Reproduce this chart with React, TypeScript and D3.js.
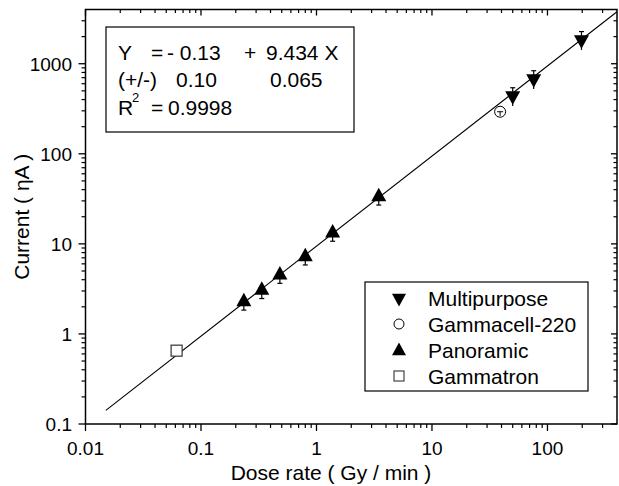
import React from "react";
import * as d3 from "d3";

const multiX = [50, 76, 197];
const multiY = [440, 680, 1850];
const multiErr = [0.23, 0.23, 0.23];

const gammacellX = [38.9];
const gammacellY = [293];
const gammacellErr = [0.05];

const panoX = [0.235, 0.336, 0.482, 0.80, 1.38, 3.46];
const panoY = [2.27, 3.05, 4.5, 7.2, 13.2, 33.3];
const panoErr = [0.19, 0.19, 0.19, 0.19, 0.19, 0.19];

const gammatronX = [0.0615];
const gammatronY = [0.652];

const xTicks = [0.01, 0.1, 1, 10, 100];
const xTickLabels = ["0.01", "0.1", "1", "10", "100"];
const yTicks = [0.1, 1, 10, 100, 1000];
const yTickLabels = ["0.1", "1", "10", "100", "1000"];

const fitSlope = 9.434;
const fitXStart = 0.015;
const fitXEnd = 400;

const legendItems = ["Multipurpose", "Gammacell-220", "Panoramic", "Gammatron"];

const W = 619, H = 486;
const left = 85.5, right = 617, top = 9.5, bottom = 424;
const FONT = "Liberation Sans, Arial, sans-serif";

function minorTicks(lo: number, hi: number) {
  const out: number[] = [];
  for (let d = Math.floor(Math.log10(lo)); d <= Math.ceil(Math.log10(hi)); d++) {
    for (let m = 2; m <= 9; m++) {
      const v = m * Math.pow(10, d);
      if (v > lo && v < hi) out.push(v);
    }
  }
  return out;
}

const upTri = (s: number) => `M0,${-s * 0.6}L${s / 2},${s * 0.3}L${-s / 2},${s * 0.3}Z`;
const downTri = (s: number) => `M0,${s * 0.6}L${s / 2},${-s * 0.3}L${-s / 2},${-s * 0.3}Z`;

export default function App() {
  const x = d3.scaleLog().domain([0.01, 400]).range([left, right]);
  const y = d3.scaleLog().domain([0.1, 4000]).range([bottom, top]);
  const xMinor = minorTicks(0.01, 400);
  const yMinor = minorTicks(0.1, 4000);

  const fitLine = d3
    .line<number>()
    .x((v) => x(v))
    .y((v) => y(fitSlope * v));
  const fitPts = [fitXStart, fitXEnd];

  const errBar = (cx: number, v: number, e: number, capEnd: "top" | "bottom") => {
    const y1 = y(v * (1 + e));
    const y2 = y(v * (1 - e));
    const yc = capEnd === "top" ? y1 : y2;
    return (
      <g stroke="#000" strokeWidth={1.2}>
        <line x1={cx} x2={cx} y1={y1} y2={y2} />
        <line x1={cx - 2.5} x2={cx + 2.5} y1={yc} y2={yc} />
      </g>
    );
  };

  const legX = 365, legY = 282, legW = 223, legH = 109;
  const eqX = 106, eqY = 27, eqW = 248, eqH = 105;

  return (
    <svg width={W} height={H} style={{ position: "absolute", left: 0, top: 0 }} fontFamily={FONT}>
      <rect x={0} y={0} width={W} height={H} fill="#fff" />
      <defs>
        <clipPath id="plot">
          <rect x={left} y={top} width={right - left} height={bottom - top} />
        </clipPath>
      </defs>

      <path d={fitLine(fitPts) || ""} stroke="#000" strokeWidth={1.1} fill="none" clipPath="url(#plot)" />

      {panoX.map((v, i) => (
        <g key={"p" + i}>
          {errBar(x(v), panoY[i], panoErr[i], "bottom")}
          <path d={upTri(15)} transform={`translate(${x(v)},${y(panoY[i])})`} fill="#000" />
        </g>
      ))}
      {multiX.map((v, i) => (
        <g key={"m" + i}>
          {errBar(x(v), multiY[i], multiErr[i], "top")}
          <path d={downTri(15)} transform={`translate(${x(v)},${y(multiY[i])})`} fill="#000" />
        </g>
      ))}
      {gammacellX.map((v, i) => (
        <g key={"g" + i}>
          <circle cx={x(v)} cy={y(gammacellY[i])} r={5.5} fill="#fff" stroke="#000" strokeWidth={1} />
          <line x1={x(v) - 3} x2={x(v) + 3} y1={y(gammacellY[i])} y2={y(gammacellY[i])} stroke="#000" />
          <line x1={x(v)} x2={x(v)} y1={y(gammacellY[i])} y2={y(gammacellY[i] * (1 - gammacellErr[i] * 2))} stroke="#000" />
        </g>
      ))}
      {gammatronX.map((v, i) => (
        <rect key={"t" + i} x={x(v) - 5.5} y={y(gammatronY[i]) - 5.5} width={11} height={11} fill="#fff" stroke="#333" strokeWidth={1.2} />
      ))}

      <rect x={left} y={top} width={right - left} height={bottom - top} fill="none" stroke="#000" strokeWidth={1.5} />

      {xTicks.map((t, i) => (
        <g key={"xt" + i}>
          <line x1={x(t)} x2={x(t)} y1={bottom} y2={bottom + 7} stroke="#000" strokeWidth={1.3} />
          <line x1={x(t)} x2={x(t)} y1={top} y2={top + 6} stroke="#000" strokeWidth={1.3} />
          <text x={x(t)} y={455} fontSize={19} textAnchor="middle">{xTickLabels[i]}</text>
        </g>
      ))}
      {xMinor.map((t, i) => (
        <g key={"xm" + i} stroke="#000" strokeWidth={1.2}>
          <line x1={x(t)} x2={x(t)} y1={bottom} y2={bottom + 4} />
          <line x1={x(t)} x2={x(t)} y1={top} y2={top + 3.5} />
        </g>
      ))}
      {yTicks.map((t, i) => (
        <g key={"yt" + i}>
          <line x1={left - 7} x2={left} y1={y(t)} y2={y(t)} stroke="#000" strokeWidth={1.3} />
          <line x1={right - 6} x2={right} y1={y(t)} y2={y(t)} stroke="#000" strokeWidth={1.3} />
          <text x={72} y={y(t) + 7} fontSize={19} textAnchor="end">{yTickLabels[i]}</text>
        </g>
      ))}
      {yMinor.map((t, i) => (
        <g key={"ym" + i} stroke="#000" strokeWidth={1.2}>
          <line x1={left - 4} x2={left} y1={y(t)} y2={y(t)} />
          <line x1={right - 3.5} x2={right} y1={y(t)} y2={y(t)} />
        </g>
      ))}

      <text x={331} y={480} fontSize={21} textAnchor="middle">Dose rate ( Gy / min )</text>
      <text transform={`translate(29,${(top + bottom) / 2}) rotate(-90)`} fontSize={21} textAnchor="middle">
        Current ( ηA )
      </text>

      <rect x={eqX} y={eqY} width={eqW} height={eqH} fill="#fff" stroke="#000" strokeWidth={1.2} />
      <g fontSize={21}>
        <text x={118} y={60}>Y</text>
        <text x={151} y={60}>=</text>
        <text x={167} y={60}>- 0.13</text>
        <text x={244} y={60}>+</text>
        <text x={266} y={60}>{fitSlope.toFixed(3)} X</text>
        <text x={118} y={87}>(+/-)</text>
        <text x={176} y={87}>0.10</text>
        <text x={270} y={87}>0.065</text>
        <text x={118} y={115}>R</text>
        <text x={132} y={102} fontSize={13}>2</text>
        <text x={151} y={115}>=</text>
        <text x={168} y={115}>0.9998</text>
      </g>

      <rect x={legX} y={legY} width={legW} height={legH} fill="#fff" stroke="#000" strokeWidth={1.2} />
      {legendItems.map((name, i) => {
        const cy = 298 + i * 26;
        const sx = 399;
        let sym: React.ReactNode = null;
        if (i === 0) sym = <path d={downTri(14)} transform={`translate(${sx},${cy})`} fill="#000" />;
        if (i === 1) sym = <circle cx={sx} cy={cy} r={5} fill="#fff" stroke="#000" strokeWidth={1} />;
        if (i === 2) sym = <path d={upTri(14)} transform={`translate(${sx},${cy + 1})`} fill="#000" />;
        if (i === 3) sym = <rect x={sx - 5} y={cy - 5} width={10} height={10} fill="#fff" stroke="#333" strokeWidth={1.1} />;
        return (
          <g key={name}>
            {sym}
            <text x={428} y={cy + 7.5} fontSize={21}>{name}</text>
          </g>
        );
      })}
    </svg>
  );
}
